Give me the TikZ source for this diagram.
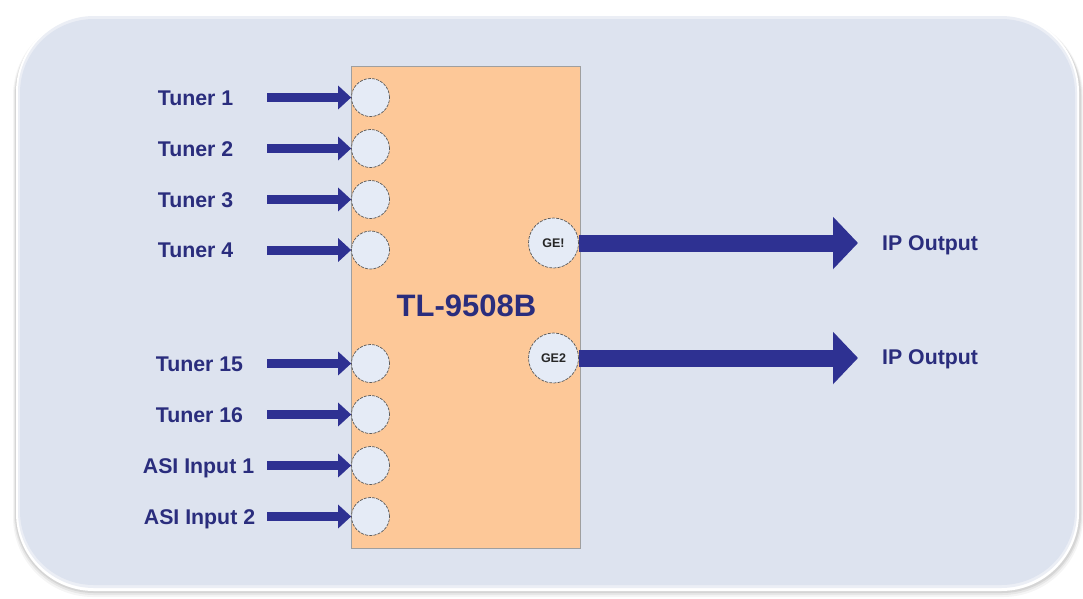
\documentclass[tikz,border=0pt]{standalone}
\usepackage{fontspec}
\setmainfont{Liberation Sans}
\usetikzlibrary{arrows.meta}
\definecolor{panelfill}{RGB}{221,227,239}
\definecolor{peach}{RGB}{253,200,152}
\definecolor{portfill}{RGB}{229,235,246}
\definecolor{navy}{RGB}{46,49,146}
\definecolor{tnavy}{RGB}{42,45,125}
\tikzset{
  lbl/.style={font=\fontsize{21.3}{25}\selectfont\bfseries, text=tnavy, inner sep=0pt, text height=15.2pt, text depth=0pt},
  titlelbl/.style={font=\fontsize{31}{36}\selectfont\bfseries, text=tnavy, inner sep=0pt, text height=22.2pt, text depth=0pt},
  devbox/.style={draw=gray!75, line width=0.8pt, fill=peach, inner sep=0pt, anchor=north west, minimum width=229pt, minimum height=482pt},
  inport/.style={circle, fill=portfill, draw=black!65, line width=0.7pt, dash pattern=on 3pt off 1.2pt, minimum size=38pt, inner sep=0pt},
  outport/.style={circle, fill=portfill, draw=black!65, line width=0.7pt, dash pattern=on 3pt off 1.2pt, minimum size=50pt, inner sep=0pt, font=\fontsize{12.5}{14}\selectfont\bfseries, text=black!85},
  inarrow/.style={draw=navy, line width=9pt, -{Triangle[length=13pt,width=23pt]}},
  outarrow/.style={draw=navy, line width=17pt, -{Triangle[length=25pt,width=51pt]}}
}
\begin{document}
\begin{tikzpicture}[x=1pt,y=-1pt]
\useasboundingbox (0,0) rectangle (1083,598);
% panel shadow
\fill[black,opacity=0.04,rounded corners=80] (13,16) rectangle (1083,597);
\fill[black,opacity=0.06,rounded corners=80] (14,16) rectangle (1082,595);
\fill[black,opacity=0.08,rounded corners=79] (15,16) rectangle (1081,593);
% panel rim and face
\fill[white,rounded corners=78] (16,14) rectangle (1079,591);
\fill[panelfill!60!white,rounded corners=76] (18,16) rectangle (1077,588);
\fill[panelfill,rounded corners=74] (20,19) rectangle (1075,585);
% device
\node[devbox] (dev) at (351,66) {};
\node[titlelbl] (title) at (466.5,305) {TL-9508B};
% input ports
\foreach \n/\y in {p1/97.5,p2/148.5,p3/199.5,p4/250,p15/363.5,p16/414.5,pa1/465.5,pa2/516.5}{
  \node[inport] (\n) at (370.5,\y) {};
  \coordinate (s\n) at (267,\y);
}
% labels
\node[lbl] (l1) at (195.5,97.5) {Tuner 1};
\node[lbl] (l2) at (195.5,148.5) {Tuner 2};
\node[lbl] (l3) at (195.5,199.5) {Tuner 3};
\node[lbl] (l4) at (195.5,250) {Tuner 4};
\node[lbl] (l15) at (199.5,363.5) {Tuner 15};
\node[lbl] (l16) at (199.5,414.5) {Tuner 16};
\node[lbl] (la1) at (198.5,465.5) {ASI Input 1};
\node[lbl] (la2) at (199.5,516.5) {ASI Input 2};
% input arrows
\foreach \n in {p1,p2,p3,p4,p15,p16,pa1,pa2}{
  \draw[inarrow] (s\n) -- (\n.west);
}
% output ports
\node[outport] (g1) at (553.5,243) {GE!};
\node[outport] (g2) at (553.5,358) {GE2};
\coordinate (e1) at (858,243);
\coordinate (e2) at (858,358);
\draw[outarrow] (g1.east) -- (e1);
\draw[outarrow] (g2.east) -- (e2);
\node[lbl, anchor=west] (ip1) at (882,243) {IP Output};
\node[lbl, anchor=west] (ip2) at (882,357) {IP Output};
\end{tikzpicture}
\end{document}
